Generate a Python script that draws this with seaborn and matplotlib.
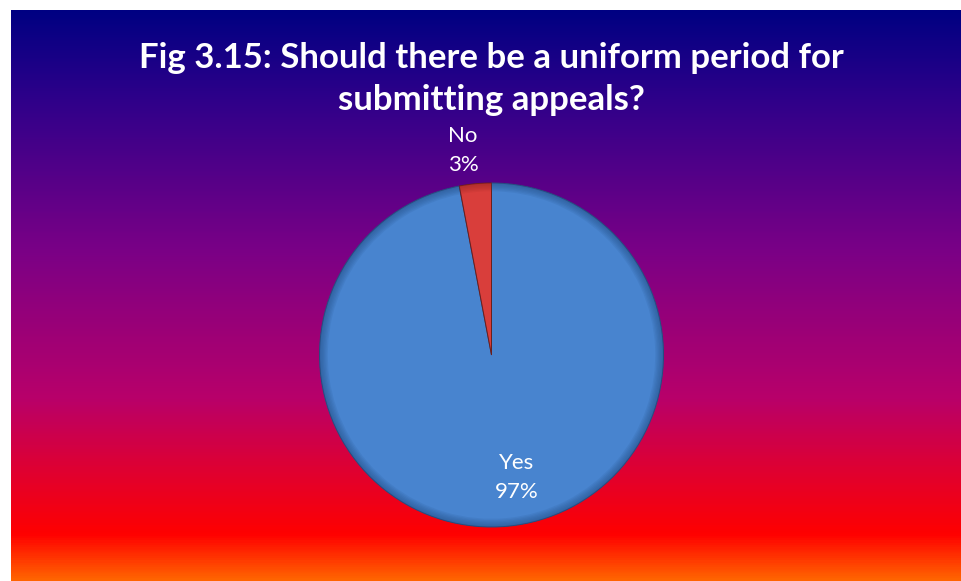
import numpy as np
import matplotlib
matplotlib.use("Agg")
import matplotlib.pyplot as plt
from matplotlib.colors import LinearSegmentedColormap
import seaborn as sns

# Survey answers
answers = ["Yes", "No"]
shares = [97, 3]
title_text = "Fig 3.15: Should there be a uniform period for\nsubmitting appeals?"

sns.set_style("white")
plt.rcParams["font.family"] = ["Lato", "DejaVu Sans"]

W, H = 962, 581
fig = plt.figure(figsize=(W / 100, H / 100), dpi=100)
fig.patch.set_facecolor("white")

# Vertical gradient backdrop (navy -> purple -> crimson -> red -> orange)
bg_left, bg_top = 11, 10
bg = fig.add_axes([bg_left / W, 0, 1 - bg_left / W, (H - bg_top) / H])
stops = [(0.00, "#000082"), (0.16, "#30008A"), (0.42, "#7A0086"),
         (0.68, "#B8006A"), (0.81, "#E00030"), (0.92, "#FF0000"),
         (1.00, "#FF6400")]
cmap = LinearSegmentedColormap.from_list("backdrop", stops)
grad = np.linspace(0, 1, 600).reshape(-1, 1)
bg.imshow(grad, aspect="auto", cmap=cmap, extent=[0, 1, 0, 1], origin="upper")
bg.set_axis_off()

# Title
fig.text(0.5 + 10 / W, 1 - 79 / H, title_text, ha="center", va="center",
         color="white", fontsize=25, fontweight="bold", linespacing=1.4)

# Pie axes placed as a square in pixels
cx, cy, r = 491.5, 355, 172
ax = fig.add_axes([(cx - r) / W, (H - cy - r) / H, 2 * r / W, 2 * r / H])
ax.set_axis_off()
colors = ["#4884CF", "#D93E3B"]
wedges, _ = ax.pie(shares, colors=colors, startangle=90, counterclock=False,
                   radius=1.0, wedgeprops=dict(edgecolor="#2B4C7E", linewidth=0.7))
wedges[1].set_edgecolor("#6B1E1C")

# Bevelled rim: soft darkening toward the outer edge of each slice
rim_colors = ["#244F86", "#9A2624"]
for k in range(6):
    ax.pie(shares, colors=rim_colors, startangle=90, counterclock=False,
           radius=1.0, wedgeprops=dict(width=0.008 * (k + 1), linewidth=0, alpha=0.12))
ax.set_xlim(-1, 1)
ax.set_ylim(-1, 1)

# Category labels with their shares
label_pos = {"Yes": (0.148, -0.71), "No": (-0.166, 1.19)}
for name, v in zip(answers, shares):
    x, y = label_pos[name]
    ax.text(x, y, f"{name}\n{v:.0f}%", ha="center", va="center", color="white",
            fontsize=16, linespacing=1.55, clip_on=False)

fig.savefig("out.png", dpi=100, facecolor=fig.get_facecolor())
